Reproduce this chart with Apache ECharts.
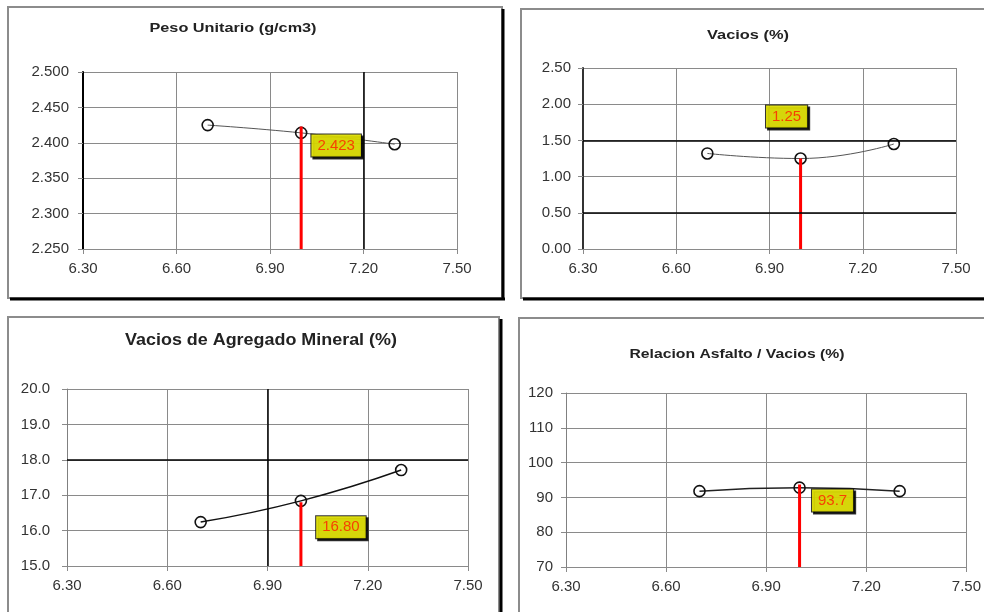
<!DOCTYPE html>
<html>
<head>
<meta charset="utf-8">
<title>Diseño Marshall</title>
<script src="https://cdn.jsdelivr.net/npm/echarts@6/dist/echarts.min.js"></script>
<style>
  html, body { margin: 0; padding: 0; background: #fff; }
  #chart { width: 984px; height: 612px; }
</style>
</head>
<body>
<div id="chart"></div>
<script>
// Asphalt content (%) on the shared horizontal axis
const xTicks = [6.30, 6.60, 6.90, 7.20, 7.50];
const asphaltPct = [6.70, 7.00, 7.30];
const designPct = 7.00;

// Measured results for each asphalt content
const pesoUnitario = [2.425, 2.414, 2.398];
const vacios = [1.32, 1.25, 1.45];
const vma = [16.24, 16.84, 17.71];
const asfaltoVacios = [91.8, 92.8, 91.8];

// Values at the design asphalt content
const designValues = [2.423, 1.25, 16.80, 93.7];
const designLabels = ['2.423', '1.25', '16.80', '93.7'];

const titles = [
  'Peso Unitario (g/cm3)',
  'Vacios (%)',
  'Vacios de Agregado Mineral (%)',
  'Relacion Asfalto / Vacios (%)'
];

// Vertical axis ranges
const yMin = [2.25, 0, 15, 70];
const yMax = [2.5, 2.5, 20, 120];
const yStep = [0.05, 0.5, 1, 10];
const yDecimals = [3, 2, 1, 0];

// Specification reference lines
const refX = [[7.20], [], [6.90], []];
const refY = [[], [0.50, 1.50], [18.0], []];

const seriesValues = [pesoUnitario, vacios, vma, asfaltoVacios];

// Layout of each panel
const grids = [
  { left: 83, top: 72, width: 374, height: 177 },
  { left: 583, top: 68, width: 373, height: 181 },
  { left: 67, top: 389, width: 401, height: 177 },
  { left: 566, top: 393, width: 404, height: 174 }
];
const titlePos = [
  { x: 233, y: 28, size: 13, sx: 1.25 },
  { x: 748, y: 35, size: 13, sx: 1.26 },
  { x: 261, y: 341, size: 16, sx: 1.12 },
  { x: 737, y: 354, size: 13, sx: 1.21 }
];
const yLabelMargin = [14, 12, 17, 13];
const yAxisColor = ['#000', '#333', '#808080', '#808080'];
const yAxisWidth = [2, 2, 1, 1];
const curveColor = ['#555', '#555', '#111', '#222'];
const curveWidth = [1, 1, 1.5, 1.5];
const labelOffset = [[35, 19], [-14, -42], [40, 25], [33, 16]];

const GRID = '#8a8a8a';
const FONT = '"Liberation Sans", Arial, sans-serif';

const frames = [
  // panel frames with dark drop edges
  { type: 'rect', shape: { x: 8, y: 7, width: 494, height: 291 }, style: { fill: 'none', stroke: '#8c8c8c', lineWidth: 2 }, z: -1 },
  { type: 'line', shape: { x1: 503, y1: 9, x2: 503, y2: 300 }, style: { stroke: '#000', lineWidth: 3 } },
  { type: 'line', shape: { x1: 10, y1: 299, x2: 505, y2: 299 }, style: { stroke: '#000', lineWidth: 3 } },
  { type: 'rect', shape: { x: 521, y: 9, width: 480, height: 289 }, style: { fill: 'none', stroke: '#8c8c8c', lineWidth: 2 }, z: -1 },
  { type: 'line', shape: { x1: 523, y1: 299, x2: 990, y2: 299 }, style: { stroke: '#000', lineWidth: 3 } },
  { type: 'rect', shape: { x: 8, y: 317, width: 491, height: 310 }, style: { fill: 'none', stroke: '#8c8c8c', lineWidth: 2 }, z: -1 },
  { type: 'line', shape: { x1: 501, y1: 319, x2: 501, y2: 620 }, style: { stroke: '#000', lineWidth: 3 } },
  { type: 'rect', shape: { x: 519, y: 318, width: 480, height: 310 }, style: { fill: 'none', stroke: '#8c8c8c', lineWidth: 2 }, z: -1 }
];

// panel titles, set in a slightly widened bold face
const titleTexts = titles.map((t, i) => ({
  type: 'text',
  x: titlePos[i].x,
  y: titlePos[i].y,
  scaleX: titlePos[i].sx,
  style: {
    text: t,
    font: 'bold ' + titlePos[i].size + 'px ' + FONT,
    fill: '#222',
    align: 'center',
    verticalAlign: 'middle',
    textAlign: 'center',
    textVerticalAlign: 'middle'
  }
}));

const option = {
  animation: false,
  backgroundColor: '#fff',
  grid: grids.map(g => Object.assign({ containLabel: false }, g)),
  xAxis: grids.map((g, i) => ({
    type: 'value',
    gridIndex: i,
    min: xTicks[0],
    max: xTicks[xTicks.length - 1],
    interval: 0.3,
    axisLine: { show: true, onZero: false, lineStyle: { color: GRID, width: 1 } },
    axisTick: { show: true, length: 5, lineStyle: { color: GRID } },
    axisLabel: {
      margin: 12, fontFamily: FONT, fontSize: 15, color: '#333',
      formatter: v => v.toFixed(2)
    },
    splitLine: { show: true, lineStyle: { color: GRID, width: 1 } }
  })),
  yAxis: grids.map((g, i) => ({
    type: 'value',
    gridIndex: i,
    min: yMin[i],
    max: yMax[i],
    interval: yStep[i],
    axisLine: { show: true, onZero: false, lineStyle: { color: yAxisColor[i], width: yAxisWidth[i] } },
    axisTick: { show: true, length: 5, lineStyle: { color: GRID } },
    axisLabel: {
      margin: yLabelMargin[i], fontFamily: FONT, fontSize: 15, color: '#333',
      formatter: v => v.toFixed(yDecimals[i])
    },
    splitLine: { show: true, lineStyle: { color: GRID, width: 1 } }
  })),
  graphic: frames.concat(titleTexts),
  series: []
};

seriesValues.forEach((vals, i) => {
  const refLines = refX[i].map(v => ({ xAxis: v })).concat(refY[i].map(v => ({ yAxis: v })));
  // black specification lines
  option.series.push({
    type: 'line',
    xAxisIndex: i, yAxisIndex: i,
    data: [],
    silent: true,
    markLine: {
      silent: true, symbol: 'none', label: { show: false },
      lineStyle: { color: '#000', width: 1.5, type: 'solid' },
      data: refLines
    },
    z: 1
  });
  // test results curve
  option.series.push({
    type: 'line',
    xAxisIndex: i, yAxisIndex: i,
    data: asphaltPct.map((x, k) => [x, vals[k]]),
    smooth: 0.5,
    symbol: 'circle',
    symbolSize: 11,
    lineStyle: { color: curveColor[i], width: curveWidth[i] },
    itemStyle: { color: 'rgba(0,0,0,0)', borderColor: '#111', borderWidth: 1.6 },
    z: 3
  });
  // design asphalt content marker
  option.series.push({
    type: 'line',
    xAxisIndex: i, yAxisIndex: i,
    data: [[designPct, yMin[i]], [designPct, designValues[i]]],
    symbol: 'none',
    lineStyle: { color: '#ff0000', width: 3 },
    z: 4
  });
  option.series.push({
    type: 'scatter',
    xAxisIndex: i, yAxisIndex: i,
    data: [[designPct, designValues[i]]],
    symbolSize: 1,
    itemStyle: { color: 'rgba(0,0,0,0)' },
    label: {
      show: true,
      position: 'inside',
      offset: labelOffset[i],
      formatter: () => designLabels[i],
      fontFamily: FONT,
      fontSize: 15,
      color: '#ff1a00',
      backgroundColor: '#ffff00',
      borderColor: '#000',
      borderWidth: 1,
      padding: [4, 6, 3, 6],
      shadowColor: '#000',
      shadowBlur: 0,
      shadowOffsetX: 2,
      shadowOffsetY: 2
    },
    z: 5
  });
});

const chart = echarts.init(document.getElementById('chart'), null, { renderer: 'canvas' });
chart.setOption(option);
</script>
</body>
</html>
